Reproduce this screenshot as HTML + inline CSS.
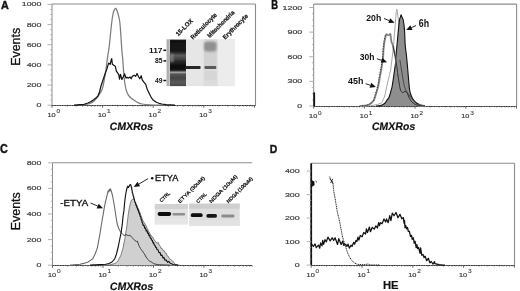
<!DOCTYPE html>
<html><head><meta charset="utf-8"><title>Figure</title>
<style>html,body{margin:0;padding:0;background:#fff;}body{width:520px;height:291px;overflow:hidden;font-family:"Liberation Sans",sans-serif;}svg{display:block;filter:grayscale(1);}</style>
</head><body>
<svg width="520" height="291" viewBox="0 0 520 291" font-family='"Liberation Sans", sans-serif'>
<defs><filter id="bl" x="-20%" y="-20%" width="140%" height="140%"><feGaussianBlur stdDeviation="0.6"/></filter><filter id="bl2" x="-20%" y="-20%" width="140%" height="140%"><feGaussianBlur stdDeviation="1.0"/></filter></defs>
<rect width="520" height="291" fill="#fff"/>
<line x1="52" y1="4" x2="255.5" y2="4" stroke="#8c8c8c" stroke-width="1.1"/>
<line x1="255.5" y1="4" x2="255.5" y2="105.2" stroke="#8c8c8c" stroke-width="1.1"/>
<line x1="52" y1="4" x2="52" y2="105.2" stroke="#8c8c8c" stroke-width="1"/>
<line x1="52" y1="105.5" x2="255.5" y2="105.5" stroke="#7a7a7a" stroke-width="1"/>
<line x1="52" y1="105.5" x2="255.5" y2="105.5" stroke="#333" stroke-width="1" stroke-dasharray="1.3 1.2"/>
<line x1="47.5" y1="105.2" x2="52" y2="105.2" stroke="#a8a8a8" stroke-width="0.9"/>
<text transform="translate(41.4 107.2) scale(0.25)" font-size="22.4" text-anchor="end" font-weight="normal" fill="#444" textLength="19.6" lengthAdjust="spacingAndGlyphs" stroke="#444" stroke-width="0.8">0</text>
<line x1="47.5" y1="85.04" x2="52" y2="85.04" stroke="#a8a8a8" stroke-width="0.9"/>
<text transform="translate(41.4 87.04) scale(0.25)" font-size="22.4" text-anchor="end" font-weight="normal" fill="#444" textLength="58.8" lengthAdjust="spacingAndGlyphs" stroke="#444" stroke-width="0.8">200</text>
<line x1="47.5" y1="64.88" x2="52" y2="64.88" stroke="#a8a8a8" stroke-width="0.9"/>
<text transform="translate(41.4 66.88) scale(0.25)" font-size="22.4" text-anchor="end" font-weight="normal" fill="#444" textLength="58.8" lengthAdjust="spacingAndGlyphs" stroke="#444" stroke-width="0.8">400</text>
<line x1="47.5" y1="44.72" x2="52" y2="44.72" stroke="#a8a8a8" stroke-width="0.9"/>
<text transform="translate(41.4 46.72) scale(0.25)" font-size="22.4" text-anchor="end" font-weight="normal" fill="#444" textLength="58.8" lengthAdjust="spacingAndGlyphs" stroke="#444" stroke-width="0.8">600</text>
<line x1="47.5" y1="24.56" x2="52" y2="24.56" stroke="#a8a8a8" stroke-width="0.9"/>
<text transform="translate(41.4 26.56) scale(0.25)" font-size="22.4" text-anchor="end" font-weight="normal" fill="#444" textLength="58.8" lengthAdjust="spacingAndGlyphs" stroke="#444" stroke-width="0.8">800</text>
<line x1="47.5" y1="4.4" x2="52" y2="4.4" stroke="#a8a8a8" stroke-width="0.9"/>
<text transform="translate(41.4 6.4) scale(0.25)" font-size="22.4" text-anchor="end" font-weight="normal" fill="#444" textLength="78.4" lengthAdjust="spacingAndGlyphs" stroke="#444" stroke-width="0.8">1000</text>
<line x1="50.2" y1="100.16" x2="52" y2="100.16" stroke="#a8a8a8" stroke-width="0.8"/>
<line x1="50.2" y1="95.12" x2="52" y2="95.12" stroke="#a8a8a8" stroke-width="0.8"/>
<line x1="50.2" y1="90.08" x2="52" y2="90.08" stroke="#a8a8a8" stroke-width="0.8"/>
<line x1="50.2" y1="80" x2="52" y2="80" stroke="#a8a8a8" stroke-width="0.8"/>
<line x1="50.2" y1="74.96" x2="52" y2="74.96" stroke="#a8a8a8" stroke-width="0.8"/>
<line x1="50.2" y1="69.92" x2="52" y2="69.92" stroke="#a8a8a8" stroke-width="0.8"/>
<line x1="50.2" y1="59.84" x2="52" y2="59.84" stroke="#a8a8a8" stroke-width="0.8"/>
<line x1="50.2" y1="54.8" x2="52" y2="54.8" stroke="#a8a8a8" stroke-width="0.8"/>
<line x1="50.2" y1="49.76" x2="52" y2="49.76" stroke="#a8a8a8" stroke-width="0.8"/>
<line x1="50.2" y1="39.68" x2="52" y2="39.68" stroke="#a8a8a8" stroke-width="0.8"/>
<line x1="50.2" y1="34.64" x2="52" y2="34.64" stroke="#a8a8a8" stroke-width="0.8"/>
<line x1="50.2" y1="29.6" x2="52" y2="29.6" stroke="#a8a8a8" stroke-width="0.8"/>
<line x1="50.2" y1="19.52" x2="52" y2="19.52" stroke="#a8a8a8" stroke-width="0.8"/>
<line x1="50.2" y1="14.48" x2="52" y2="14.48" stroke="#a8a8a8" stroke-width="0.8"/>
<line x1="50.2" y1="9.44" x2="52" y2="9.44" stroke="#a8a8a8" stroke-width="0.8"/>
<line x1="52" y1="105.2" x2="52" y2="107.8" stroke="#555" stroke-width="0.9"/>
<line x1="67.23" y1="105.2" x2="67.23" y2="106.6" stroke="#555" stroke-width="0.8"/>
<line x1="76.14" y1="105.2" x2="76.14" y2="106.6" stroke="#555" stroke-width="0.8"/>
<line x1="82.46" y1="105.2" x2="82.46" y2="106.6" stroke="#555" stroke-width="0.8"/>
<line x1="87.37" y1="105.2" x2="87.37" y2="106.6" stroke="#555" stroke-width="0.8"/>
<line x1="91.37" y1="105.2" x2="91.37" y2="106.6" stroke="#555" stroke-width="0.8"/>
<line x1="94.76" y1="105.2" x2="94.76" y2="106.6" stroke="#555" stroke-width="0.8"/>
<line x1="97.7" y1="105.2" x2="97.7" y2="106.6" stroke="#555" stroke-width="0.8"/>
<line x1="100.28" y1="105.2" x2="100.28" y2="106.6" stroke="#555" stroke-width="0.8"/>
<text transform="translate(47.4 117.2) scale(0.25)" font-size="22.4" text-anchor="start" font-weight="normal" fill="#444" textLength="32.8" lengthAdjust="spacingAndGlyphs" stroke="#444" stroke-width="0.8">10</text>
<text transform="translate(56.4 113.3) scale(0.25)" font-size="20" text-anchor="start" font-weight="normal" fill="#444" textLength="14.4" lengthAdjust="spacingAndGlyphs" stroke="#444" stroke-width="0.5">0</text>
<line x1="102.6" y1="105.2" x2="102.6" y2="107.8" stroke="#555" stroke-width="0.9"/>
<line x1="117.83" y1="105.2" x2="117.83" y2="106.6" stroke="#555" stroke-width="0.8"/>
<line x1="126.74" y1="105.2" x2="126.74" y2="106.6" stroke="#555" stroke-width="0.8"/>
<line x1="133.06" y1="105.2" x2="133.06" y2="106.6" stroke="#555" stroke-width="0.8"/>
<line x1="137.97" y1="105.2" x2="137.97" y2="106.6" stroke="#555" stroke-width="0.8"/>
<line x1="141.97" y1="105.2" x2="141.97" y2="106.6" stroke="#555" stroke-width="0.8"/>
<line x1="145.36" y1="105.2" x2="145.36" y2="106.6" stroke="#555" stroke-width="0.8"/>
<line x1="148.3" y1="105.2" x2="148.3" y2="106.6" stroke="#555" stroke-width="0.8"/>
<line x1="150.88" y1="105.2" x2="150.88" y2="106.6" stroke="#555" stroke-width="0.8"/>
<text transform="translate(98 117.2) scale(0.25)" font-size="22.4" text-anchor="start" font-weight="normal" fill="#444" textLength="32.8" lengthAdjust="spacingAndGlyphs" stroke="#444" stroke-width="0.8">10</text>
<text transform="translate(107 113.3) scale(0.25)" font-size="20" text-anchor="start" font-weight="normal" fill="#444" textLength="14.4" lengthAdjust="spacingAndGlyphs" stroke="#444" stroke-width="0.5">1</text>
<line x1="153.2" y1="105.2" x2="153.2" y2="107.8" stroke="#555" stroke-width="0.9"/>
<line x1="168.43" y1="105.2" x2="168.43" y2="106.6" stroke="#555" stroke-width="0.8"/>
<line x1="177.34" y1="105.2" x2="177.34" y2="106.6" stroke="#555" stroke-width="0.8"/>
<line x1="183.66" y1="105.2" x2="183.66" y2="106.6" stroke="#555" stroke-width="0.8"/>
<line x1="188.57" y1="105.2" x2="188.57" y2="106.6" stroke="#555" stroke-width="0.8"/>
<line x1="192.57" y1="105.2" x2="192.57" y2="106.6" stroke="#555" stroke-width="0.8"/>
<line x1="195.96" y1="105.2" x2="195.96" y2="106.6" stroke="#555" stroke-width="0.8"/>
<line x1="198.9" y1="105.2" x2="198.9" y2="106.6" stroke="#555" stroke-width="0.8"/>
<line x1="201.48" y1="105.2" x2="201.48" y2="106.6" stroke="#555" stroke-width="0.8"/>
<text transform="translate(148.6 117.2) scale(0.25)" font-size="22.4" text-anchor="start" font-weight="normal" fill="#444" textLength="32.8" lengthAdjust="spacingAndGlyphs" stroke="#444" stroke-width="0.8">10</text>
<text transform="translate(157.6 113.3) scale(0.25)" font-size="20" text-anchor="start" font-weight="normal" fill="#444" textLength="14.4" lengthAdjust="spacingAndGlyphs" stroke="#444" stroke-width="0.5">2</text>
<line x1="203.8" y1="105.2" x2="203.8" y2="107.8" stroke="#555" stroke-width="0.9"/>
<line x1="219.03" y1="105.2" x2="219.03" y2="106.6" stroke="#555" stroke-width="0.8"/>
<line x1="227.94" y1="105.2" x2="227.94" y2="106.6" stroke="#555" stroke-width="0.8"/>
<line x1="234.26" y1="105.2" x2="234.26" y2="106.6" stroke="#555" stroke-width="0.8"/>
<line x1="239.17" y1="105.2" x2="239.17" y2="106.6" stroke="#555" stroke-width="0.8"/>
<line x1="243.17" y1="105.2" x2="243.17" y2="106.6" stroke="#555" stroke-width="0.8"/>
<line x1="246.56" y1="105.2" x2="246.56" y2="106.6" stroke="#555" stroke-width="0.8"/>
<line x1="249.5" y1="105.2" x2="249.5" y2="106.6" stroke="#555" stroke-width="0.8"/>
<line x1="252.08" y1="105.2" x2="252.08" y2="106.6" stroke="#555" stroke-width="0.8"/>
<text transform="translate(199.2 117.2) scale(0.25)" font-size="22.4" text-anchor="start" font-weight="normal" fill="#444" textLength="32.8" lengthAdjust="spacingAndGlyphs" stroke="#444" stroke-width="0.8">10</text>
<text transform="translate(208.2 113.3) scale(0.25)" font-size="20" text-anchor="start" font-weight="normal" fill="#444" textLength="14.4" lengthAdjust="spacingAndGlyphs" stroke="#444" stroke-width="0.5">3</text>
<line x1="254.4" y1="105.2" x2="254.4" y2="107.8" stroke="#555" stroke-width="0.9"/>
<path d="M78 105.1 C79.33 105 84 104.77 86 104.5 C88 104.23 88.67 104.08 90 103.5 C91.33 102.92 92.67 102.17 94 101 C95.33 99.83 96.68 98.33 98 96.5 C99.32 94.67 100.98 92.08 101.9 90 C102.82 87.92 103.02 86.17 103.5 84 C103.98 81.83 104.4 79.33 104.8 77 C105.2 74.67 105.57 72.33 105.9 70 C106.23 67.67 106.52 65.17 106.8 63 C107.08 60.83 107.33 58.83 107.6 57 C107.87 55.17 108.08 54.17 108.4 52 C108.72 49.83 109.13 47.17 109.5 44 C109.87 40.83 110.22 36.67 110.6 33 C110.98 29.33 111.43 25 111.8 22 C112.17 19 112.43 16.92 112.8 15 C113.17 13.08 113.58 11.58 114 10.5 C114.42 9.42 114.93 8.78 115.3 8.5 C115.67 8.22 115.87 8.3 116.2 8.8 C116.53 9.3 116.9 10.3 117.3 11.5 C117.7 12.7 118.18 14.25 118.6 16 C119.02 17.75 119.45 19.17 119.8 22 C120.15 24.83 120.42 29.17 120.7 33 C120.98 36.83 121.28 41.83 121.5 45 C121.72 48.17 121.78 49.5 122 52 C122.22 54.5 122.55 57 122.8 60 C123.05 63 123.25 66.83 123.5 70 C123.75 73.17 124.03 76.5 124.3 79 C124.57 81.5 124.78 83.17 125.1 85 C125.42 86.83 125.8 88.58 126.2 90 C126.6 91.42 127.03 92.5 127.5 93.5 C127.97 94.5 128.42 95.25 129 96 C129.58 96.75 130.33 97.42 131 98 C131.67 98.58 132.17 98.92 133 99.5 C133.83 100.08 135.17 100.98 136 101.5 C136.83 102.02 137 102.18 138 102.6 C139 103.02 140 103.63 142 104 C144 104.37 146.17 104.62 150 104.8 C153.83 104.98 162.5 105.05 165 105.1" fill="none" stroke="#7c7c7c" stroke-width="1.25"/>
<path d="M74 105.1 L84 104.3 L88 103 L91 101.5 L94 99.5 L96.5 97.5 L98 95.8 L99.5 92 L101 86 L103 80 L105 74 L107.1 68.4 L108.6 63.2 L110.2 64.3 L111.2 60 L111.7 58.6 L112.4 64.3 L113.8 65.3 L115.3 66.3 L116.4 71.2 L118.8 74.6 L119.5 79.1 L120.5 74.3 L121.9 79.5 L123.3 76.7 L124.6 73.9 L126 78.1 L127 77.2 L128.1 78.1 L130.1 77 L131.2 78.8 L132.2 76.4 L134.3 75.3 L135.6 76.4 L137 73.6 L138.7 77 L139.8 78.8 L141.2 75.7 L142.2 79.8 L143.9 82.2 L145.7 84.4 L147.3 89.5 L149 93 L150.9 96.8 L153 100 L156.4 102.3 L159 103.3 L161.8 104 L166 104.7 L175 105.1" fill="none" stroke="#111" stroke-width="1.2" stroke-linejoin="round"/>
<defs><linearGradient id="l1" x1="0" y1="0" x2="0" y2="1"><stop offset="0.000" stop-color="#222"/><stop offset="0.036" stop-color="#111"/><stop offset="0.229" stop-color="#141414"/><stop offset="0.286" stop-color="#2e2e2e"/><stop offset="0.335" stop-color="#5c5c5c"/><stop offset="0.400" stop-color="#4a4a4a"/><stop offset="0.464" stop-color="#2a2a2a"/><stop offset="0.549" stop-color="#111"/><stop offset="0.635" stop-color="#0d0d0d"/><stop offset="0.669" stop-color="#333"/><stop offset="0.703" stop-color="#a8a8a8"/><stop offset="0.741" stop-color="#555"/><stop offset="0.827" stop-color="#444"/><stop offset="0.912" stop-color="#5a5a5a"/><stop offset="1.000" stop-color="#484848"/></linearGradient></defs>
<rect x="166.6" y="39.3" width="68.1" height="46.8" fill="#e6e6e6"/>
<g filter="url(#bl)">
<rect x="166.6" y="39.3" width="3" height="46.8" fill="#b0b0b0"/>
<rect x="203.5" y="39.3" width="14" height="46.8" fill="#dcdcdc"/>
<rect x="218" y="39.3" width="16.5" height="46.8" fill="#ececec"/>
<rect x="204" y="50" width="12.5" height="16" fill="#d2d2d2"/>
<rect x="170" y="39.6" width="16" height="46.5" fill="url(#l1)"/>
<rect x="170" y="54" width="3.5" height="8" fill="#7a7a7a" filter="url(#bl2)"/>
<rect x="185" y="66.1" width="15.6" height="2.8" rx="1" fill="#262626"/>
<rect x="204.4" y="66.1" width="11.9" height="2.8" rx="1" fill="#5a5a5a"/>
<rect x="204" y="41.5" width="12.6" height="10" rx="3" fill="#909090" filter="url(#bl2)"/>
<rect x="204.4" y="71" width="11.9" height="9" rx="2" fill="#d6d6d6"/>
</g>
<text x="162.5" y="52.5" font-size="6.3" font-weight="bold" text-anchor="end" fill="#111" textLength="13.5" lengthAdjust="spacingAndGlyphs">117</text>
<line x1="163.4" y1="50.3" x2="166.2" y2="50.3" stroke="#111" stroke-width="1.5"/>
<text x="162.5" y="63.1" font-size="6.3" font-weight="bold" text-anchor="end" fill="#111" textLength="7.5" lengthAdjust="spacingAndGlyphs">85</text>
<line x1="163.4" y1="60.9" x2="166.2" y2="60.9" stroke="#111" stroke-width="1.5"/>
<text x="162.5" y="82.7" font-size="6.3" font-weight="bold" text-anchor="end" fill="#111" textLength="7.5" lengthAdjust="spacingAndGlyphs">49</text>
<line x1="163.4" y1="80.5" x2="166.2" y2="80.5" stroke="#111" stroke-width="1.5"/>
<text transform="translate(178.2 36.5) rotate(-45) scale(0.25)" font-size="25" font-weight="bold" fill="#111" stroke="#111" stroke-width="0.8" textLength="86" lengthAdjust="spacingAndGlyphs">15-LOX</text>
<text transform="translate(193 39.8) rotate(-45) scale(0.25)" font-size="25" font-weight="bold" fill="#111" stroke="#111" stroke-width="0.8" textLength="138" lengthAdjust="spacingAndGlyphs">Reticulocyte</text>
<text transform="translate(209.8 38.2) rotate(-45) scale(0.25)" font-size="25" font-weight="bold" fill="#111" stroke="#111" stroke-width="0.8" textLength="142" lengthAdjust="spacingAndGlyphs">Mitochondria</text>
<text transform="translate(225.2 39.8) rotate(-45) scale(0.25)" font-size="25" font-weight="bold" fill="#111" stroke="#111" stroke-width="0.8" textLength="132" lengthAdjust="spacingAndGlyphs">Erythrocyte</text>
<line x1="313.7" y1="4.1" x2="516.6" y2="4.1" stroke="#8c8c8c" stroke-width="1.1"/>
<line x1="516.6" y1="4.1" x2="516.6" y2="106" stroke="#8c8c8c" stroke-width="1.1"/>
<line x1="313.7" y1="4.1" x2="313.7" y2="106" stroke="#8c8c8c" stroke-width="1"/>
<line x1="313.7" y1="106.5" x2="516.6" y2="106.5" stroke="#7a7a7a" stroke-width="1"/>
<line x1="313.7" y1="106.5" x2="516.6" y2="106.5" stroke="#333" stroke-width="1" stroke-dasharray="1.3 1.2"/>
<line x1="309.2" y1="106" x2="313.7" y2="106" stroke="#a8a8a8" stroke-width="0.9"/>
<text transform="translate(302.2 108) scale(0.25)" font-size="22.4" text-anchor="end" font-weight="normal" fill="#444" textLength="19.6" lengthAdjust="spacingAndGlyphs" stroke="#444" stroke-width="0.8">0</text>
<line x1="309.2" y1="81.38" x2="313.7" y2="81.38" stroke="#a8a8a8" stroke-width="0.9"/>
<text transform="translate(302.2 83.38) scale(0.25)" font-size="22.4" text-anchor="end" font-weight="normal" fill="#444" textLength="58.8" lengthAdjust="spacingAndGlyphs" stroke="#444" stroke-width="0.8">300</text>
<line x1="309.2" y1="56.75" x2="313.7" y2="56.75" stroke="#a8a8a8" stroke-width="0.9"/>
<text transform="translate(302.2 58.75) scale(0.25)" font-size="22.4" text-anchor="end" font-weight="normal" fill="#444" textLength="58.8" lengthAdjust="spacingAndGlyphs" stroke="#444" stroke-width="0.8">600</text>
<line x1="309.2" y1="32.12" x2="313.7" y2="32.12" stroke="#a8a8a8" stroke-width="0.9"/>
<text transform="translate(302.2 34.12) scale(0.25)" font-size="22.4" text-anchor="end" font-weight="normal" fill="#444" textLength="58.8" lengthAdjust="spacingAndGlyphs" stroke="#444" stroke-width="0.8">900</text>
<line x1="309.2" y1="7.5" x2="313.7" y2="7.5" stroke="#a8a8a8" stroke-width="0.9"/>
<text transform="translate(302.2 9.5) scale(0.25)" font-size="22.4" text-anchor="end" font-weight="normal" fill="#444" textLength="78.4" lengthAdjust="spacingAndGlyphs" stroke="#444" stroke-width="0.8">1200</text>
<line x1="311.9" y1="99.84" x2="313.7" y2="99.84" stroke="#a8a8a8" stroke-width="0.8"/>
<line x1="311.9" y1="93.69" x2="313.7" y2="93.69" stroke="#a8a8a8" stroke-width="0.8"/>
<line x1="311.9" y1="87.53" x2="313.7" y2="87.53" stroke="#a8a8a8" stroke-width="0.8"/>
<line x1="311.9" y1="75.22" x2="313.7" y2="75.22" stroke="#a8a8a8" stroke-width="0.8"/>
<line x1="311.9" y1="69.06" x2="313.7" y2="69.06" stroke="#a8a8a8" stroke-width="0.8"/>
<line x1="311.9" y1="62.91" x2="313.7" y2="62.91" stroke="#a8a8a8" stroke-width="0.8"/>
<line x1="311.9" y1="50.59" x2="313.7" y2="50.59" stroke="#a8a8a8" stroke-width="0.8"/>
<line x1="311.9" y1="44.44" x2="313.7" y2="44.44" stroke="#a8a8a8" stroke-width="0.8"/>
<line x1="311.9" y1="38.28" x2="313.7" y2="38.28" stroke="#a8a8a8" stroke-width="0.8"/>
<line x1="311.9" y1="25.97" x2="313.7" y2="25.97" stroke="#a8a8a8" stroke-width="0.8"/>
<line x1="311.9" y1="19.81" x2="313.7" y2="19.81" stroke="#a8a8a8" stroke-width="0.8"/>
<line x1="311.9" y1="13.66" x2="313.7" y2="13.66" stroke="#a8a8a8" stroke-width="0.8"/>
<line x1="313.7" y1="106" x2="313.7" y2="108.6" stroke="#555" stroke-width="0.9"/>
<line x1="328.96" y1="106" x2="328.96" y2="107.4" stroke="#555" stroke-width="0.8"/>
<line x1="337.89" y1="106" x2="337.89" y2="107.4" stroke="#555" stroke-width="0.8"/>
<line x1="344.22" y1="106" x2="344.22" y2="107.4" stroke="#555" stroke-width="0.8"/>
<line x1="349.14" y1="106" x2="349.14" y2="107.4" stroke="#555" stroke-width="0.8"/>
<line x1="353.15" y1="106" x2="353.15" y2="107.4" stroke="#555" stroke-width="0.8"/>
<line x1="356.55" y1="106" x2="356.55" y2="107.4" stroke="#555" stroke-width="0.8"/>
<line x1="359.49" y1="106" x2="359.49" y2="107.4" stroke="#555" stroke-width="0.8"/>
<line x1="362.08" y1="106" x2="362.08" y2="107.4" stroke="#555" stroke-width="0.8"/>
<text transform="translate(309.1 118.4) scale(0.25)" font-size="22.4" text-anchor="start" font-weight="normal" fill="#444" textLength="32.8" lengthAdjust="spacingAndGlyphs" stroke="#444" stroke-width="0.8">10</text>
<text transform="translate(318.1 114.5) scale(0.25)" font-size="20" text-anchor="start" font-weight="normal" fill="#444" textLength="14.4" lengthAdjust="spacingAndGlyphs" stroke="#444" stroke-width="0.5">0</text>
<line x1="364.4" y1="106" x2="364.4" y2="108.6" stroke="#555" stroke-width="0.9"/>
<line x1="379.66" y1="106" x2="379.66" y2="107.4" stroke="#555" stroke-width="0.8"/>
<line x1="388.59" y1="106" x2="388.59" y2="107.4" stroke="#555" stroke-width="0.8"/>
<line x1="394.92" y1="106" x2="394.92" y2="107.4" stroke="#555" stroke-width="0.8"/>
<line x1="399.84" y1="106" x2="399.84" y2="107.4" stroke="#555" stroke-width="0.8"/>
<line x1="403.85" y1="106" x2="403.85" y2="107.4" stroke="#555" stroke-width="0.8"/>
<line x1="407.25" y1="106" x2="407.25" y2="107.4" stroke="#555" stroke-width="0.8"/>
<line x1="410.19" y1="106" x2="410.19" y2="107.4" stroke="#555" stroke-width="0.8"/>
<line x1="412.78" y1="106" x2="412.78" y2="107.4" stroke="#555" stroke-width="0.8"/>
<text transform="translate(359.8 118.4) scale(0.25)" font-size="22.4" text-anchor="start" font-weight="normal" fill="#444" textLength="32.8" lengthAdjust="spacingAndGlyphs" stroke="#444" stroke-width="0.8">10</text>
<text transform="translate(368.8 114.5) scale(0.25)" font-size="20" text-anchor="start" font-weight="normal" fill="#444" textLength="14.4" lengthAdjust="spacingAndGlyphs" stroke="#444" stroke-width="0.5">1</text>
<line x1="415.1" y1="106" x2="415.1" y2="108.6" stroke="#555" stroke-width="0.9"/>
<line x1="430.36" y1="106" x2="430.36" y2="107.4" stroke="#555" stroke-width="0.8"/>
<line x1="439.29" y1="106" x2="439.29" y2="107.4" stroke="#555" stroke-width="0.8"/>
<line x1="445.62" y1="106" x2="445.62" y2="107.4" stroke="#555" stroke-width="0.8"/>
<line x1="450.54" y1="106" x2="450.54" y2="107.4" stroke="#555" stroke-width="0.8"/>
<line x1="454.55" y1="106" x2="454.55" y2="107.4" stroke="#555" stroke-width="0.8"/>
<line x1="457.95" y1="106" x2="457.95" y2="107.4" stroke="#555" stroke-width="0.8"/>
<line x1="460.89" y1="106" x2="460.89" y2="107.4" stroke="#555" stroke-width="0.8"/>
<line x1="463.48" y1="106" x2="463.48" y2="107.4" stroke="#555" stroke-width="0.8"/>
<text transform="translate(410.5 118.4) scale(0.25)" font-size="22.4" text-anchor="start" font-weight="normal" fill="#444" textLength="32.8" lengthAdjust="spacingAndGlyphs" stroke="#444" stroke-width="0.8">10</text>
<text transform="translate(419.5 114.5) scale(0.25)" font-size="20" text-anchor="start" font-weight="normal" fill="#444" textLength="14.4" lengthAdjust="spacingAndGlyphs" stroke="#444" stroke-width="0.5">2</text>
<line x1="465.8" y1="106" x2="465.8" y2="108.6" stroke="#555" stroke-width="0.9"/>
<line x1="481.06" y1="106" x2="481.06" y2="107.4" stroke="#555" stroke-width="0.8"/>
<line x1="489.99" y1="106" x2="489.99" y2="107.4" stroke="#555" stroke-width="0.8"/>
<line x1="496.32" y1="106" x2="496.32" y2="107.4" stroke="#555" stroke-width="0.8"/>
<line x1="501.24" y1="106" x2="501.24" y2="107.4" stroke="#555" stroke-width="0.8"/>
<line x1="505.25" y1="106" x2="505.25" y2="107.4" stroke="#555" stroke-width="0.8"/>
<line x1="508.65" y1="106" x2="508.65" y2="107.4" stroke="#555" stroke-width="0.8"/>
<line x1="511.59" y1="106" x2="511.59" y2="107.4" stroke="#555" stroke-width="0.8"/>
<line x1="514.18" y1="106" x2="514.18" y2="107.4" stroke="#555" stroke-width="0.8"/>
<text transform="translate(461.2 118.4) scale(0.25)" font-size="22.4" text-anchor="start" font-weight="normal" fill="#444" textLength="32.8" lengthAdjust="spacingAndGlyphs" stroke="#444" stroke-width="0.8">10</text>
<text transform="translate(470.2 114.5) scale(0.25)" font-size="20" text-anchor="start" font-weight="normal" fill="#444" textLength="14.4" lengthAdjust="spacingAndGlyphs" stroke="#444" stroke-width="0.5">3</text>
<line x1="516.5" y1="106" x2="516.5" y2="108.6" stroke="#555" stroke-width="0.9"/>
<rect x="313.3" y="92.4" width="1.8" height="13.6" fill="#111"/>
<path d="M365 106 C366.17 105.92 370 105.75 372 105.5 C374 105.25 375.67 104.83 377 104.5 C378.33 104.17 379.23 103.75 380 103.5 C380.77 103.25 381.1 103.58 381.6 103 C382.1 102.42 382.48 101.17 383 100 C383.52 98.83 384.2 97.67 384.7 96 C385.2 94.33 385.53 92.17 386 90 C386.47 87.83 387 85.17 387.5 83 C388 80.83 388.58 78.83 389 77 C389.42 75.17 389.73 73.17 390 72 C390.27 70.83 390.35 71.5 390.6 70 C390.85 68.5 391.18 65.5 391.5 63 C391.82 60.5 392.17 57.9 392.5 55 C392.83 52.1 393.25 48.1 393.5 45.6 C393.75 43.1 393.78 42.6 394 40 C394.22 37.4 394.53 33.33 394.8 30 C395.07 26.67 395.38 22.67 395.6 20 C395.82 17.33 395.95 15.67 396.1 14 C396.25 12.33 396.38 10.82 396.5 10 C396.62 9.18 396.68 9.1 396.8 9.1 C396.92 9.1 397.07 9.18 397.2 10 C397.33 10.82 397.4 12.33 397.6 14 C397.8 15.67 398.17 17.33 398.4 20 C398.63 22.67 398.73 26.67 399 30 C399.27 33.33 399.67 35.83 400 40 C400.33 44.17 400.67 50 401 55 C401.33 60 401.67 65.83 402 70 C402.33 74.17 402.58 77 403 80 C403.42 83 404 85.67 404.5 88 C405 90.33 405.42 92.17 406 94 C406.58 95.83 407.17 97.5 408 99 C408.83 100.5 409.67 101.95 411 103 C412.33 104.05 413.67 104.8 416 105.3 C418.33 105.8 423.5 105.88 425 106" fill="#fff" stroke="#9a9a9a" stroke-width="0.9"/>
<path d="M376 106 C376.67 105.93 378.83 105.85 380 105.6 C381.17 105.35 382.17 104.92 383 104.5 C383.83 104.08 384.28 103.92 385 103.1 C385.72 102.28 386.7 100.42 387.3 99.6 C387.9 98.78 388.15 99.05 388.6 98.2 C389.05 97.35 389.63 95.63 390 94.5 C390.37 93.37 390.47 92.65 390.8 91.4 C391.13 90.15 391.6 88.95 392 87 C392.4 85.05 392.87 81.87 393.2 79.7 C393.53 77.53 393.75 75.78 394 74 C394.25 72.22 394.45 70.77 394.7 69 C394.95 67.23 395.25 65.98 395.5 63.4 C395.75 60.82 395.95 56.57 396.2 53.5 C396.45 50.43 396.63 48.92 397 45 C397.37 41.08 397.98 34.17 398.4 30 C398.82 25.83 399.15 22.2 399.5 20 C399.85 17.8 400.23 17.67 400.5 16.8 C400.77 15.93 400.88 14.8 401.1 14.8 C401.32 14.8 401.45 15.93 401.8 16.8 C402.15 17.67 402.75 17.8 403.2 20 C403.65 22.2 404.17 25.83 404.5 30 C404.83 34.17 404.88 40.83 405.2 45 C405.52 49.17 406.07 51.93 406.4 55 C406.73 58.07 406.97 60.9 407.2 63.4 C407.43 65.9 407.6 67.67 407.8 70 C408 72.33 408.12 74.23 408.4 77.4 C408.68 80.57 409.15 86.32 409.5 89 C409.85 91.68 410.1 92.13 410.5 93.5 C410.9 94.87 411.32 96.03 411.9 97.2 C412.48 98.37 413.23 99.53 414 100.5 C414.77 101.47 415.58 102.32 416.5 103 C417.42 103.68 418.52 104.18 419.5 104.6 C420.48 105.02 421.48 105.27 422.4 105.5 C423.32 105.73 424.57 105.92 425 106" fill="#8e8e8e" stroke="#111" stroke-width="1.1"/>
<path d="M360 106 C361 105.92 364.33 105.83 366 105.5 C367.67 105.17 368.92 104.58 370 104 C371.08 103.42 371.83 102.67 372.5 102 C373.17 101.33 373.42 101.33 374 100 C374.58 98.67 375.42 95.83 376 94 C376.58 92.17 377.08 90.5 377.5 89 C377.92 87.5 378.17 86.67 378.5 85 C378.83 83.33 379.12 81.17 379.5 79 C379.88 76.83 380.43 74 380.8 72 C381.17 70 381.43 68.67 381.7 67 C381.97 65.33 382.15 63.83 382.4 62 C382.65 60.17 383.02 58 383.2 56 C383.38 54 383.33 52 383.5 50 C383.67 48 384 45.58 384.2 44 C384.4 42.42 384.48 41.67 384.7 40.5 C384.92 39.33 385.25 38.03 385.5 37 C385.75 35.97 385.9 34.67 386.2 34.3 C386.5 33.93 386.95 34.63 387.3 34.8 C387.65 34.97 387.95 35.3 388.3 35.3 C388.65 35.3 389.05 34.97 389.4 34.8 C389.75 34.63 390.07 33.18 390.4 34.3 C390.73 35.42 390.97 39.62 391.4 41.5 C391.83 43.38 392.57 44.05 393 45.6 C393.43 47.15 393.63 49.07 394 50.8 C394.37 52.53 394.78 53.8 395.2 56 C395.62 58.2 396.05 60.83 396.5 64 C396.95 67.17 397.48 72 397.9 75 C398.32 78 398.62 79.67 399 82 C399.38 84.33 399.78 87.37 400.2 89 C400.62 90.63 401.12 91.2 401.5 91.8 C401.88 92.4 402.08 92.58 402.5 92.6 C402.92 92.62 403.42 92.1 404 91.9 C404.58 91.7 405.45 91.13 406 91.4 C406.55 91.67 406.9 92.73 407.3 93.5 C407.7 94.27 407.95 95.03 408.4 96 C408.85 96.97 409.42 98.3 410 99.3 C410.58 100.3 411.15 101.22 411.9 102 C412.65 102.78 413.53 103.47 414.5 104 C415.47 104.53 415.95 104.88 417.7 105.2 C419.45 105.52 423.78 105.78 425 105.9" fill="none" stroke="#9a9a9a" stroke-width="1.9"/>
<path d="M360 106 C361 105.92 364.33 105.83 366 105.5 C367.67 105.17 368.92 104.58 370 104 C371.08 103.42 371.83 102.67 372.5 102 C373.17 101.33 373.42 101.33 374 100 C374.58 98.67 375.42 95.83 376 94 C376.58 92.17 377.08 90.5 377.5 89 C377.92 87.5 378.17 86.67 378.5 85 C378.83 83.33 379.12 81.17 379.5 79 C379.88 76.83 380.43 74 380.8 72 C381.17 70 381.43 68.67 381.7 67 C381.97 65.33 382.15 63.83 382.4 62 C382.65 60.17 383.02 58 383.2 56 C383.38 54 383.33 52 383.5 50 C383.67 48 384 45.58 384.2 44 C384.4 42.42 384.48 41.67 384.7 40.5 C384.92 39.33 385.25 38.03 385.5 37 C385.75 35.97 385.9 34.67 386.2 34.3 C386.5 33.93 386.95 34.63 387.3 34.8 C387.65 34.97 387.95 35.3 388.3 35.3 C388.65 35.3 389.05 34.97 389.4 34.8 C389.75 34.63 390.07 33.18 390.4 34.3 C390.73 35.42 390.97 39.62 391.4 41.5 C391.83 43.38 392.57 44.05 393 45.6 C393.43 47.15 393.63 49.07 394 50.8 C394.37 52.53 394.78 53.8 395.2 56 C395.62 58.2 396.05 60.83 396.5 64 C396.95 67.17 397.48 72 397.9 75 C398.32 78 398.62 79.67 399 82 C399.38 84.33 399.78 87.37 400.2 89 C400.62 90.63 401.12 91.2 401.5 91.8 C401.88 92.4 402.08 92.58 402.5 92.6 C402.92 92.62 403.42 92.1 404 91.9 C404.58 91.7 405.45 91.13 406 91.4 C406.55 91.67 406.9 92.73 407.3 93.5 C407.7 94.27 407.95 95.03 408.4 96 C408.85 96.97 409.42 98.3 410 99.3 C410.58 100.3 411.15 101.22 411.9 102 C412.65 102.78 413.53 103.47 414.5 104 C415.47 104.53 415.95 104.88 417.7 105.2 C419.45 105.52 423.78 105.78 425 105.9" fill="none" stroke="#555" stroke-width="0.5"/>
<path d="M393 45.6 C393.17 46.47 393.63 49.07 394 50.8 C394.37 52.53 394.78 53.8 395.2 56 C395.62 58.2 396.05 60.83 396.5 64 C396.95 67.17 397.48 72 397.9 75 C398.32 78 398.62 79.67 399 82 C399.38 84.33 399.78 87.37 400.2 89 C400.62 90.63 401.12 91.2 401.5 91.8 C401.88 92.4 402.08 92.58 402.5 92.6 C402.92 92.62 403.42 92.1 404 91.9 C404.58 91.7 405.45 91.13 406 91.4 C406.55 91.67 406.9 92.73 407.3 93.5 C407.7 94.27 407.95 95.03 408.4 96 C408.85 96.97 409.42 98.3 410 99.3 C410.58 100.3 411.15 101.22 411.9 102 C412.65 102.78 413.53 103.47 414.5 104 C415.47 104.53 415.95 104.88 417.7 105.2 C419.45 105.52 423.78 105.78 425 105.9" fill="none" stroke="#2a2a2a" stroke-width="0.9"/>
<path d="M399.9 60 C400.17 61.67 400.98 66.83 401.5 70 C402.02 73.17 402.58 76.55 403 79 C403.42 81.45 403.63 83.12 404 84.7 C404.37 86.28 404.78 87.4 405.2 88.5 C405.62 89.6 405.87 90.22 406.5 91.3 C407.13 92.38 408.18 93.9 409 95 C409.82 96.1 410.57 96.9 411.4 97.9 C412.23 98.9 413.17 100.03 414 101 C414.83 101.97 415.4 102.95 416.4 103.7 C417.4 104.45 419.4 105.2 420 105.5" fill="none" stroke="#333" stroke-width="0.8"/>
<path d="M359.4 106 C360.4 105.92 363.73 105.83 365.4 105.5 C367.07 105.17 368.32 104.58 369.4 104 C370.48 103.42 371.23 102.67 371.9 102 C372.57 101.33 372.82 101.33 373.4 100 C373.98 98.67 374.82 95.83 375.4 94 C375.98 92.17 376.48 90.5 376.9 89 C377.32 87.5 377.57 86.67 377.9 85 C378.23 83.33 378.52 81.17 378.9 79 C379.28 76.83 379.83 74 380.2 72 C380.57 70 380.83 68.67 381.1 67 C381.37 65.33 381.55 63.83 381.8 62 C382.05 60.17 382.42 58 382.6 56 C382.78 54 382.73 52 382.9 50 C383.07 48 383.4 45.58 383.6 44 C383.8 42.42 383.88 41.67 384.1 40.5 C384.32 39.33 384.65 38.03 384.9 37 C385.15 35.97 385.48 34.75 385.6 34.3" fill="none" stroke="#222" stroke-width="0.9" stroke-dasharray="1 1.6"/>
<text transform="translate(366.2 20.5) scale(0.25)" font-size="37.2" text-anchor="start" font-weight="bold" fill="#111" textLength="60" lengthAdjust="spacingAndGlyphs">20h</text>
<line x1="384" y1="18.5" x2="389.23" y2="20.62" stroke="#111" stroke-width="0.9"/>
<polygon points="394.6,22.8 388.25,23.03 390.2,18.21" fill="#111"/>
<text transform="translate(418.8 26.8) scale(0.25)" font-size="40.8" text-anchor="start" font-weight="bold" fill="#111" textLength="41.2" lengthAdjust="spacingAndGlyphs">6h</text>
<line x1="416" y1="25.5" x2="411.45" y2="27.64" stroke="#111" stroke-width="0.9"/>
<polygon points="406.2,30.1 410.35,25.28 412.56,29.99" fill="#111"/>
<text transform="translate(359.8 60.3) scale(0.25)" font-size="38.4" text-anchor="start" font-weight="bold" fill="#111" textLength="58.8" lengthAdjust="spacingAndGlyphs">30h</text>
<line x1="376.8" y1="58.7" x2="381.61" y2="60.33" stroke="#111" stroke-width="0.9"/>
<polygon points="387.1,62.2 380.77,62.8 382.44,57.87" fill="#111"/>
<text transform="translate(348.1 83.7) scale(0.25)" font-size="38.4" text-anchor="start" font-weight="bold" fill="#111" textLength="61.6" lengthAdjust="spacingAndGlyphs">45h</text>
<line x1="365.6" y1="83.7" x2="370.39" y2="85.28" stroke="#111" stroke-width="0.9"/>
<polygon points="375.9,87.1 369.58,87.75 371.21,82.81" fill="#111"/>
<line x1="52.5" y1="162.8" x2="252.2" y2="162.8" stroke="#8c8c8c" stroke-width="1.1"/>
<line x1="52.5" y1="162.8" x2="52.5" y2="265.2" stroke="#8c8c8c" stroke-width="1"/>
<line x1="52.5" y1="265.5" x2="252.2" y2="265.5" stroke="#7a7a7a" stroke-width="1"/>
<line x1="52.5" y1="265.5" x2="252.2" y2="265.5" stroke="#333" stroke-width="1" stroke-dasharray="1.3 1.2"/>
<line x1="48" y1="265.2" x2="52.5" y2="265.2" stroke="#a8a8a8" stroke-width="0.9"/>
<text transform="translate(41.4 267.2) scale(0.25)" font-size="22.4" text-anchor="end" font-weight="normal" fill="#444" textLength="19.6" lengthAdjust="spacingAndGlyphs" stroke="#444" stroke-width="0.8">0</text>
<line x1="48" y1="239.6" x2="52.5" y2="239.6" stroke="#a8a8a8" stroke-width="0.9"/>
<text transform="translate(41.4 241.6) scale(0.25)" font-size="22.4" text-anchor="end" font-weight="normal" fill="#444" textLength="58.8" lengthAdjust="spacingAndGlyphs" stroke="#444" stroke-width="0.8">200</text>
<line x1="48" y1="214" x2="52.5" y2="214" stroke="#a8a8a8" stroke-width="0.9"/>
<text transform="translate(41.4 216) scale(0.25)" font-size="22.4" text-anchor="end" font-weight="normal" fill="#444" textLength="58.8" lengthAdjust="spacingAndGlyphs" stroke="#444" stroke-width="0.8">400</text>
<line x1="48" y1="188.4" x2="52.5" y2="188.4" stroke="#a8a8a8" stroke-width="0.9"/>
<text transform="translate(41.4 190.4) scale(0.25)" font-size="22.4" text-anchor="end" font-weight="normal" fill="#444" textLength="58.8" lengthAdjust="spacingAndGlyphs" stroke="#444" stroke-width="0.8">600</text>
<line x1="48" y1="162.8" x2="52.5" y2="162.8" stroke="#a8a8a8" stroke-width="0.9"/>
<text transform="translate(41.4 164.8) scale(0.25)" font-size="22.4" text-anchor="end" font-weight="normal" fill="#444" textLength="58.8" lengthAdjust="spacingAndGlyphs" stroke="#444" stroke-width="0.8">800</text>
<line x1="50.7" y1="258.8" x2="52.5" y2="258.8" stroke="#a8a8a8" stroke-width="0.8"/>
<line x1="50.7" y1="252.4" x2="52.5" y2="252.4" stroke="#a8a8a8" stroke-width="0.8"/>
<line x1="50.7" y1="246" x2="52.5" y2="246" stroke="#a8a8a8" stroke-width="0.8"/>
<line x1="50.7" y1="233.2" x2="52.5" y2="233.2" stroke="#a8a8a8" stroke-width="0.8"/>
<line x1="50.7" y1="226.8" x2="52.5" y2="226.8" stroke="#a8a8a8" stroke-width="0.8"/>
<line x1="50.7" y1="220.4" x2="52.5" y2="220.4" stroke="#a8a8a8" stroke-width="0.8"/>
<line x1="50.7" y1="207.6" x2="52.5" y2="207.6" stroke="#a8a8a8" stroke-width="0.8"/>
<line x1="50.7" y1="201.2" x2="52.5" y2="201.2" stroke="#a8a8a8" stroke-width="0.8"/>
<line x1="50.7" y1="194.8" x2="52.5" y2="194.8" stroke="#a8a8a8" stroke-width="0.8"/>
<line x1="50.7" y1="182" x2="52.5" y2="182" stroke="#a8a8a8" stroke-width="0.8"/>
<line x1="50.7" y1="175.6" x2="52.5" y2="175.6" stroke="#a8a8a8" stroke-width="0.8"/>
<line x1="50.7" y1="169.2" x2="52.5" y2="169.2" stroke="#a8a8a8" stroke-width="0.8"/>
<line x1="52.5" y1="265.2" x2="52.5" y2="267.8" stroke="#555" stroke-width="0.9"/>
<line x1="67.7" y1="265.2" x2="67.7" y2="266.6" stroke="#555" stroke-width="0.8"/>
<line x1="76.59" y1="265.2" x2="76.59" y2="266.6" stroke="#555" stroke-width="0.8"/>
<line x1="82.9" y1="265.2" x2="82.9" y2="266.6" stroke="#555" stroke-width="0.8"/>
<line x1="87.8" y1="265.2" x2="87.8" y2="266.6" stroke="#555" stroke-width="0.8"/>
<line x1="91.8" y1="265.2" x2="91.8" y2="266.6" stroke="#555" stroke-width="0.8"/>
<line x1="95.18" y1="265.2" x2="95.18" y2="266.6" stroke="#555" stroke-width="0.8"/>
<line x1="98.11" y1="265.2" x2="98.11" y2="266.6" stroke="#555" stroke-width="0.8"/>
<line x1="100.69" y1="265.2" x2="100.69" y2="266.6" stroke="#555" stroke-width="0.8"/>
<text transform="translate(47.9 277) scale(0.25)" font-size="22.4" text-anchor="start" font-weight="normal" fill="#444" textLength="32.8" lengthAdjust="spacingAndGlyphs" stroke="#444" stroke-width="0.8">10</text>
<text transform="translate(56.9 273.1) scale(0.25)" font-size="20" text-anchor="start" font-weight="normal" fill="#444" textLength="14.4" lengthAdjust="spacingAndGlyphs" stroke="#444" stroke-width="0.5">0</text>
<line x1="103" y1="265.2" x2="103" y2="267.8" stroke="#555" stroke-width="0.9"/>
<line x1="118.2" y1="265.2" x2="118.2" y2="266.6" stroke="#555" stroke-width="0.8"/>
<line x1="127.09" y1="265.2" x2="127.09" y2="266.6" stroke="#555" stroke-width="0.8"/>
<line x1="133.4" y1="265.2" x2="133.4" y2="266.6" stroke="#555" stroke-width="0.8"/>
<line x1="138.3" y1="265.2" x2="138.3" y2="266.6" stroke="#555" stroke-width="0.8"/>
<line x1="142.3" y1="265.2" x2="142.3" y2="266.6" stroke="#555" stroke-width="0.8"/>
<line x1="145.68" y1="265.2" x2="145.68" y2="266.6" stroke="#555" stroke-width="0.8"/>
<line x1="148.61" y1="265.2" x2="148.61" y2="266.6" stroke="#555" stroke-width="0.8"/>
<line x1="151.19" y1="265.2" x2="151.19" y2="266.6" stroke="#555" stroke-width="0.8"/>
<text transform="translate(98.4 277) scale(0.25)" font-size="22.4" text-anchor="start" font-weight="normal" fill="#444" textLength="32.8" lengthAdjust="spacingAndGlyphs" stroke="#444" stroke-width="0.8">10</text>
<text transform="translate(107.4 273.1) scale(0.25)" font-size="20" text-anchor="start" font-weight="normal" fill="#444" textLength="14.4" lengthAdjust="spacingAndGlyphs" stroke="#444" stroke-width="0.5">1</text>
<line x1="153.5" y1="265.2" x2="153.5" y2="267.8" stroke="#555" stroke-width="0.9"/>
<line x1="168.7" y1="265.2" x2="168.7" y2="266.6" stroke="#555" stroke-width="0.8"/>
<line x1="177.59" y1="265.2" x2="177.59" y2="266.6" stroke="#555" stroke-width="0.8"/>
<line x1="183.9" y1="265.2" x2="183.9" y2="266.6" stroke="#555" stroke-width="0.8"/>
<line x1="188.8" y1="265.2" x2="188.8" y2="266.6" stroke="#555" stroke-width="0.8"/>
<line x1="192.8" y1="265.2" x2="192.8" y2="266.6" stroke="#555" stroke-width="0.8"/>
<line x1="196.18" y1="265.2" x2="196.18" y2="266.6" stroke="#555" stroke-width="0.8"/>
<line x1="199.11" y1="265.2" x2="199.11" y2="266.6" stroke="#555" stroke-width="0.8"/>
<line x1="201.69" y1="265.2" x2="201.69" y2="266.6" stroke="#555" stroke-width="0.8"/>
<text transform="translate(148.9 277) scale(0.25)" font-size="22.4" text-anchor="start" font-weight="normal" fill="#444" textLength="32.8" lengthAdjust="spacingAndGlyphs" stroke="#444" stroke-width="0.8">10</text>
<text transform="translate(157.9 273.1) scale(0.25)" font-size="20" text-anchor="start" font-weight="normal" fill="#444" textLength="14.4" lengthAdjust="spacingAndGlyphs" stroke="#444" stroke-width="0.5">2</text>
<line x1="204" y1="265.2" x2="204" y2="267.8" stroke="#555" stroke-width="0.9"/>
<line x1="219.2" y1="265.2" x2="219.2" y2="266.6" stroke="#555" stroke-width="0.8"/>
<line x1="228.09" y1="265.2" x2="228.09" y2="266.6" stroke="#555" stroke-width="0.8"/>
<line x1="234.4" y1="265.2" x2="234.4" y2="266.6" stroke="#555" stroke-width="0.8"/>
<line x1="239.3" y1="265.2" x2="239.3" y2="266.6" stroke="#555" stroke-width="0.8"/>
<line x1="243.3" y1="265.2" x2="243.3" y2="266.6" stroke="#555" stroke-width="0.8"/>
<line x1="246.68" y1="265.2" x2="246.68" y2="266.6" stroke="#555" stroke-width="0.8"/>
<line x1="249.61" y1="265.2" x2="249.61" y2="266.6" stroke="#555" stroke-width="0.8"/>
<line x1="252.19" y1="265.2" x2="252.19" y2="266.6" stroke="#555" stroke-width="0.8"/>
<text transform="translate(199.4 277) scale(0.25)" font-size="22.4" text-anchor="start" font-weight="normal" fill="#444" textLength="32.8" lengthAdjust="spacingAndGlyphs" stroke="#444" stroke-width="0.8">10</text>
<text transform="translate(208.4 273.1) scale(0.25)" font-size="20" text-anchor="start" font-weight="normal" fill="#444" textLength="14.4" lengthAdjust="spacingAndGlyphs" stroke="#444" stroke-width="0.5">3</text>
<path d="M100 265.2 L110 264.8 L115 263.5 L118 261 L121 255 L123 248 L125 238 L127 225 L128.2 215 L129.3 207.8 L130.5 203 L131.5 200 L132.9 199.12 L134 198.82 L134.75 201.95 L135.5 202.23 L136.25 205.18 L137 205.24 L137.75 208.08 L138.5 208.96 L139.25 212.02 L140 212.37 L140.5 215.09 L141 215.29 L141.5 217.55 L142 217.89 L142.5 220.25 L143 220.4 L144 222.83 L145 223.58 L145.67 225.79 L146.33 225.91 L147 228.69 L147.67 228.94 L148.33 231.37 L149 231.61 L150 234.37 L151 235.12 L152 237.07 L153 237.26 L154 239.92 L155 240.58 L157 243.29 L158.4 242.46 L159.2 245.31 L160 245.72 L161 248.33 L162 248.35 L163.13 250.62 L164.27 250.63 L165.4 253.25 L166.27 253.12 L167.13 255.95 L168 256.04 L169.25 258.49 L170.5 259.1 L172.4 261.09 L173.2 261.5 L174 263 L176 264.8 L180 265.2" fill="#d0d0d0" stroke="#666" stroke-width="0.8"/>
<path d="M70 265.1 L72 264.94 L74 264.78 L76 264.62 L78 264.46 L80 264.3 L83.7 263.4 L85.85 262.7 L88 262 L90.4 260.4 L92.8 258.8 L93.7 256.87 L94.6 254.93 L95.5 253 L96.45 250.4 L97.4 247.8 L97.87 245.2 L98.33 242.6 L98.8 240 L99.23 237.73 L99.67 235.47 L100.1 233.2 L100.47 230.8 L100.83 228.4 L101.2 226 L101.6 223.5 L102 221 L102.37 219 L102.73 217 L103.1 215 L103.55 212.2 L104 209.4 L104.4 207.27 L104.8 205.13 L105.2 203 L105.9 200.15 L106.6 197.3 L107.5 193.5 L108.1 191 L108.6 192 L109.2 189.3 L109.8 191 L110.5 188.8 L111.1 190.8 L111.7 192.5 L112.6 196 L113.05 198.5 L113.5 201 L113.95 203.5 L114.4 206 L114.7 208 L115 210 L115.3 212 L115.6 214 L115.9 216 L116.2 218 L116.6 220.5 L117 223 L117.75 225.5 L118.5 228 L120 231 L121.6 233.2" fill="none" stroke="#6a6a6a" stroke-width="1.1" stroke-linejoin="round"/>
<path d="M121.6 233.2 L122.4 234 L124 235.5 L126 234.5 L128.2 235.7 L130 235.2 L131.5 237 L133 238.5 L134.8 240.6 L136.5 241.5 L137.3 241 L138.9 245.6 L140.5 248.5 L142 250.5 L144.3 253.7 L146 257 L148 259.5 L149.6 261.3 L151.4 262 L153.7 263.7 L158 264.7 L170 265.1" fill="none" stroke="#333" stroke-width="0.9"/>
<path d="M90 265.1 L100 264.6 L105.6 264.3 L109 263.5 L112 262 L114.7 258.8 L116.5 254 L118.4 246 L120 238 L121.2 232 L122.3 224 L123.1 216 L123.9 210.9 L124.6 203 L125.5 195.5 L126.3 191 L127.2 187.5 L127.8 186.2 L128.5 187.5 L129.3 186 L130.1 184.6 L130.9 185 L131.25 186.99 L131.6 187.35 L131.83 189.89 L132.07 189.98 L132.3 192.7 L132.75 193.35 L133.2 195.87 L133.57 196.02 L133.93 198.67 L134.3 199.01 L134.9 202.25 L135.5 202.59 L136 205.41 L136.5 205.38 L137 207.96 L137.5 208.06 L138 210.45 L138.5 210.17 L138.9 212.89 L139.3 212.74 L140.1 216.22 L140.7 216.86 L141.3 219.77 L141.7 219.75 L142.1 222.39 L142.5 222.92 L143.25 225.48 L144 225.38 L144.75 228.25 L145.5 228.17 L146.25 231 L147 230.64 L147.67 233.24 L148.33 233.04 L149 235.6 L149.67 235.3 L150.33 238.17 L151 238.09 L151.67 240.1 L152.33 240.36 L153 242.88 L153.63 242.6 L154.27 245.1 L154.9 245.08 L155.6 247.37 L156.3 247.3 L157 249.55 L158 249.82 L159 252.68 L160 252.55 L161 255.53 L162 255.14 L163 258.02 L164 257.45 L165 260.22 L166.25 260.05 L167.5 262.32 L168.75 261.37 L170 263 L173 264.5 L178 265.1" fill="none" stroke="#111" stroke-width="1.15" stroke-linejoin="round"/>
<text transform="translate(60.3 205.9) scale(0.25)" font-size="35.2" text-anchor="start" font-weight="normal" fill="#111" textLength="111.6" lengthAdjust="spacingAndGlyphs" stroke="#111" stroke-width="1.3">-ETYA</text>
<line x1="90.6" y1="203" x2="97.67" y2="206.02" stroke="#111" stroke-width="0.9"/>
<polygon points="103,208.3 96.64,208.41 98.69,203.63" fill="#111"/>
<circle cx="152.2" cy="178.3" r="1.25" fill="#111"/>
<text transform="translate(154.9 181.4) scale(0.25)" font-size="35.2" text-anchor="start" font-weight="normal" fill="#111" textLength="93.6" lengthAdjust="spacingAndGlyphs" stroke="#111" stroke-width="1.3">ETYA</text>
<line x1="148.2" y1="178.6" x2="138.81" y2="184.08" stroke="#111" stroke-width="0.9"/>
<polygon points="133.8,187 137.5,181.83 140.12,186.32" fill="#111"/>
<rect x="154.8" y="204" width="33.1" height="20.4" fill="#e2e2e2"/>
<rect x="189.2" y="203.7" width="50.5" height="21.9" fill="#dedede"/>
<g filter="url(#bl)">
<rect x="154.8" y="204" width="33.1" height="5" fill="#d2d2d2"/>
<rect x="189.2" y="203.7" width="50.5" height="5" fill="#cecece"/>
<rect x="154.8" y="219" width="33.1" height="5.4" fill="#e6e6e6"/>
<rect x="189.2" y="220" width="50.5" height="5.6" fill="#e2e2e2"/>
<rect x="157.6" y="211.9" width="13.6" height="4" rx="1.8" fill="#080808"/>
<rect x="172.5" y="213.1" width="12.6" height="2.3" rx="1" fill="#909090"/>
<rect x="190.8" y="213.3" width="11.8" height="3.8" rx="1.7" fill="#080808"/>
<rect x="206.4" y="214.1" width="10.6" height="3.6" rx="1.6" fill="#181818"/>
<rect x="221.4" y="214.6" width="13" height="2.8" rx="1.2" fill="#8c8c8c"/>
</g>
<text transform="translate(161.6 202.6) rotate(-45) scale(0.25)" font-size="19.6" fill="#111" stroke="#111" stroke-width="1.1" textLength="50" lengthAdjust="spacingAndGlyphs">CTRL</text>
<text transform="translate(180 203.4) rotate(-45) scale(0.25)" font-size="19.6" fill="#111" stroke="#111" stroke-width="1.1" textLength="142" lengthAdjust="spacingAndGlyphs">ETYA (30uM)</text>
<text transform="translate(198.2 203.4) rotate(-45) scale(0.25)" font-size="19.6" fill="#111" stroke="#111" stroke-width="1.1" textLength="50" lengthAdjust="spacingAndGlyphs">CTRL</text>
<text transform="translate(211.2 203.4) rotate(-45) scale(0.25)" font-size="19.6" fill="#111" stroke="#111" stroke-width="1.1" textLength="150" lengthAdjust="spacingAndGlyphs">NDGA (10uM)</text>
<text transform="translate(228.5 203.4) rotate(-45) scale(0.25)" font-size="19.6" fill="#111" stroke="#111" stroke-width="1.1" textLength="138" lengthAdjust="spacingAndGlyphs">NDGA (100uM)</text>
<line x1="311.2" y1="163.3" x2="514.5" y2="163.3" stroke="#8c8c8c" stroke-width="1.1"/>
<line x1="514.5" y1="163.3" x2="514.5" y2="265.1" stroke="#8c8c8c" stroke-width="1.1"/>
<line x1="311.2" y1="163.3" x2="311.2" y2="265.1" stroke="#111" stroke-width="1.8"/>
<line x1="311.2" y1="265.5" x2="514.5" y2="265.5" stroke="#7a7a7a" stroke-width="1"/>
<line x1="311.2" y1="265.5" x2="514.5" y2="265.5" stroke="#333" stroke-width="1" stroke-dasharray="1.3 1.2"/>
<line x1="306.7" y1="265.1" x2="311.2" y2="265.1" stroke="#a8a8a8" stroke-width="0.9"/>
<text transform="translate(299.6 267.1) scale(0.25)" font-size="22.4" text-anchor="end" font-weight="normal" fill="#444" textLength="19.6" lengthAdjust="spacingAndGlyphs" stroke="#444" stroke-width="0.8">0</text>
<line x1="306.7" y1="241.6" x2="311.2" y2="241.6" stroke="#a8a8a8" stroke-width="0.9"/>
<text transform="translate(299.6 243.6) scale(0.25)" font-size="22.4" text-anchor="end" font-weight="normal" fill="#444" textLength="58.8" lengthAdjust="spacingAndGlyphs" stroke="#444" stroke-width="0.8">100</text>
<line x1="306.7" y1="218.1" x2="311.2" y2="218.1" stroke="#a8a8a8" stroke-width="0.9"/>
<text transform="translate(299.6 220.1) scale(0.25)" font-size="22.4" text-anchor="end" font-weight="normal" fill="#444" textLength="58.8" lengthAdjust="spacingAndGlyphs" stroke="#444" stroke-width="0.8">200</text>
<line x1="306.7" y1="194.6" x2="311.2" y2="194.6" stroke="#a8a8a8" stroke-width="0.9"/>
<text transform="translate(299.6 196.6) scale(0.25)" font-size="22.4" text-anchor="end" font-weight="normal" fill="#444" textLength="58.8" lengthAdjust="spacingAndGlyphs" stroke="#444" stroke-width="0.8">300</text>
<line x1="306.7" y1="171.1" x2="311.2" y2="171.1" stroke="#a8a8a8" stroke-width="0.9"/>
<text transform="translate(299.6 173.1) scale(0.25)" font-size="22.4" text-anchor="end" font-weight="normal" fill="#444" textLength="58.8" lengthAdjust="spacingAndGlyphs" stroke="#444" stroke-width="0.8">400</text>
<line x1="309.4" y1="259.23" x2="311.2" y2="259.23" stroke="#a8a8a8" stroke-width="0.8"/>
<line x1="309.4" y1="253.35" x2="311.2" y2="253.35" stroke="#a8a8a8" stroke-width="0.8"/>
<line x1="309.4" y1="247.48" x2="311.2" y2="247.48" stroke="#a8a8a8" stroke-width="0.8"/>
<line x1="309.4" y1="235.73" x2="311.2" y2="235.73" stroke="#a8a8a8" stroke-width="0.8"/>
<line x1="309.4" y1="229.85" x2="311.2" y2="229.85" stroke="#a8a8a8" stroke-width="0.8"/>
<line x1="309.4" y1="223.98" x2="311.2" y2="223.98" stroke="#a8a8a8" stroke-width="0.8"/>
<line x1="309.4" y1="212.22" x2="311.2" y2="212.22" stroke="#a8a8a8" stroke-width="0.8"/>
<line x1="309.4" y1="206.35" x2="311.2" y2="206.35" stroke="#a8a8a8" stroke-width="0.8"/>
<line x1="309.4" y1="200.48" x2="311.2" y2="200.48" stroke="#a8a8a8" stroke-width="0.8"/>
<line x1="309.4" y1="188.72" x2="311.2" y2="188.72" stroke="#a8a8a8" stroke-width="0.8"/>
<line x1="309.4" y1="182.85" x2="311.2" y2="182.85" stroke="#a8a8a8" stroke-width="0.8"/>
<line x1="309.4" y1="176.98" x2="311.2" y2="176.98" stroke="#a8a8a8" stroke-width="0.8"/>
<line x1="311.2" y1="265.1" x2="311.2" y2="267.7" stroke="#555" stroke-width="0.9"/>
<line x1="326.49" y1="265.1" x2="326.49" y2="266.5" stroke="#555" stroke-width="0.8"/>
<line x1="335.44" y1="265.1" x2="335.44" y2="266.5" stroke="#555" stroke-width="0.8"/>
<line x1="341.78" y1="265.1" x2="341.78" y2="266.5" stroke="#555" stroke-width="0.8"/>
<line x1="346.71" y1="265.1" x2="346.71" y2="266.5" stroke="#555" stroke-width="0.8"/>
<line x1="350.73" y1="265.1" x2="350.73" y2="266.5" stroke="#555" stroke-width="0.8"/>
<line x1="354.13" y1="265.1" x2="354.13" y2="266.5" stroke="#555" stroke-width="0.8"/>
<line x1="357.08" y1="265.1" x2="357.08" y2="266.5" stroke="#555" stroke-width="0.8"/>
<line x1="359.68" y1="265.1" x2="359.68" y2="266.5" stroke="#555" stroke-width="0.8"/>
<text transform="translate(306.6 276.8) scale(0.25)" font-size="22.4" text-anchor="start" font-weight="normal" fill="#444" textLength="32.8" lengthAdjust="spacingAndGlyphs" stroke="#444" stroke-width="0.8">10</text>
<text transform="translate(315.6 272.9) scale(0.25)" font-size="20" text-anchor="start" font-weight="normal" fill="#444" textLength="14.4" lengthAdjust="spacingAndGlyphs" stroke="#444" stroke-width="0.5">0</text>
<line x1="362" y1="265.1" x2="362" y2="267.7" stroke="#555" stroke-width="0.9"/>
<line x1="377.29" y1="265.1" x2="377.29" y2="266.5" stroke="#555" stroke-width="0.8"/>
<line x1="386.24" y1="265.1" x2="386.24" y2="266.5" stroke="#555" stroke-width="0.8"/>
<line x1="392.58" y1="265.1" x2="392.58" y2="266.5" stroke="#555" stroke-width="0.8"/>
<line x1="397.51" y1="265.1" x2="397.51" y2="266.5" stroke="#555" stroke-width="0.8"/>
<line x1="401.53" y1="265.1" x2="401.53" y2="266.5" stroke="#555" stroke-width="0.8"/>
<line x1="404.93" y1="265.1" x2="404.93" y2="266.5" stroke="#555" stroke-width="0.8"/>
<line x1="407.88" y1="265.1" x2="407.88" y2="266.5" stroke="#555" stroke-width="0.8"/>
<line x1="410.48" y1="265.1" x2="410.48" y2="266.5" stroke="#555" stroke-width="0.8"/>
<text transform="translate(357.4 276.8) scale(0.25)" font-size="22.4" text-anchor="start" font-weight="normal" fill="#444" textLength="32.8" lengthAdjust="spacingAndGlyphs" stroke="#444" stroke-width="0.8">10</text>
<text transform="translate(366.4 272.9) scale(0.25)" font-size="20" text-anchor="start" font-weight="normal" fill="#444" textLength="14.4" lengthAdjust="spacingAndGlyphs" stroke="#444" stroke-width="0.5">1</text>
<line x1="412.8" y1="265.1" x2="412.8" y2="267.7" stroke="#555" stroke-width="0.9"/>
<line x1="428.09" y1="265.1" x2="428.09" y2="266.5" stroke="#555" stroke-width="0.8"/>
<line x1="437.04" y1="265.1" x2="437.04" y2="266.5" stroke="#555" stroke-width="0.8"/>
<line x1="443.38" y1="265.1" x2="443.38" y2="266.5" stroke="#555" stroke-width="0.8"/>
<line x1="448.31" y1="265.1" x2="448.31" y2="266.5" stroke="#555" stroke-width="0.8"/>
<line x1="452.33" y1="265.1" x2="452.33" y2="266.5" stroke="#555" stroke-width="0.8"/>
<line x1="455.73" y1="265.1" x2="455.73" y2="266.5" stroke="#555" stroke-width="0.8"/>
<line x1="458.68" y1="265.1" x2="458.68" y2="266.5" stroke="#555" stroke-width="0.8"/>
<line x1="461.28" y1="265.1" x2="461.28" y2="266.5" stroke="#555" stroke-width="0.8"/>
<text transform="translate(408.2 276.8) scale(0.25)" font-size="22.4" text-anchor="start" font-weight="normal" fill="#444" textLength="32.8" lengthAdjust="spacingAndGlyphs" stroke="#444" stroke-width="0.8">10</text>
<text transform="translate(417.2 272.9) scale(0.25)" font-size="20" text-anchor="start" font-weight="normal" fill="#444" textLength="14.4" lengthAdjust="spacingAndGlyphs" stroke="#444" stroke-width="0.5">2</text>
<line x1="463.6" y1="265.1" x2="463.6" y2="267.7" stroke="#555" stroke-width="0.9"/>
<line x1="478.89" y1="265.1" x2="478.89" y2="266.5" stroke="#555" stroke-width="0.8"/>
<line x1="487.84" y1="265.1" x2="487.84" y2="266.5" stroke="#555" stroke-width="0.8"/>
<line x1="494.18" y1="265.1" x2="494.18" y2="266.5" stroke="#555" stroke-width="0.8"/>
<line x1="499.11" y1="265.1" x2="499.11" y2="266.5" stroke="#555" stroke-width="0.8"/>
<line x1="503.13" y1="265.1" x2="503.13" y2="266.5" stroke="#555" stroke-width="0.8"/>
<line x1="506.53" y1="265.1" x2="506.53" y2="266.5" stroke="#555" stroke-width="0.8"/>
<line x1="509.48" y1="265.1" x2="509.48" y2="266.5" stroke="#555" stroke-width="0.8"/>
<line x1="512.08" y1="265.1" x2="512.08" y2="266.5" stroke="#555" stroke-width="0.8"/>
<text transform="translate(459 276.8) scale(0.25)" font-size="22.4" text-anchor="start" font-weight="normal" fill="#444" textLength="32.8" lengthAdjust="spacingAndGlyphs" stroke="#444" stroke-width="0.8">10</text>
<text transform="translate(468 272.9) scale(0.25)" font-size="20" text-anchor="start" font-weight="normal" fill="#444" textLength="14.4" lengthAdjust="spacingAndGlyphs" stroke="#444" stroke-width="0.5">3</text>
<line x1="514.4" y1="265.1" x2="514.4" y2="267.7" stroke="#555" stroke-width="0.9"/>
<path d="M311.5 180 L314.3 181.5 L314.6 185 L312.2 186.8 Z" fill="#111"/>
<line x1="315.5" y1="181" x2="317" y2="182.3" stroke="#222" stroke-width="0.9"/>
<path d="M329.8 176.5 C329.92 177.02 330.13 178.85 330.5 179.6 C330.87 180.35 331.58 180.27 332 181 C332.42 181.73 332.72 182.4 333 184 C333.28 185.6 333.37 188.27 333.7 190.6 C334.03 192.93 334.62 195.77 335 198 C335.38 200.23 335.63 201.8 336 204 C336.37 206.2 336.8 209.12 337.2 211.2 C337.6 213.28 338 214.78 338.4 216.5 C338.8 218.22 339.17 219.42 339.6 221.5 C340.03 223.58 340.55 226.58 341 229 C341.45 231.42 341.88 234.17 342.3 236 C342.72 237.83 343.12 238.67 343.5 240 C343.88 241.33 344.2 242.7 344.6 244 C345 245.3 345.42 246.38 345.9 247.8 C346.38 249.22 346.93 251.05 347.5 252.5 C348.07 253.95 348.67 255.28 349.3 256.5 C349.93 257.72 350.6 258.85 351.3 259.8 C352 260.75 352.72 261.55 353.5 262.2 C354.28 262.85 355.08 263.32 356 263.7 C356.92 264.08 357.5 264.35 359 264.5 C360.5 264.65 363.5 264.68 365 264.6 C366.5 264.52 367.17 263.97 368 264 C368.83 264.03 368 264.63 370 264.8 C372 264.97 378.33 264.97 380 265" fill="none" stroke="#222" stroke-width="0.95" stroke-dasharray="1.2 0.6"/>
<path d="M330 178.5 L333 183.5 M332.8 178.8 L330.6 183" stroke="#222" stroke-width="0.9"/>
<path d="M311.7 244 L313.37 246.51 L315.04 243.92 L316.25 247.65 L318.5 245.09 L319.75 248.17 L320.55 242.99 L322 245.83 L322.73 240.43 L323.64 244.36 L324.98 239.65 L326.35 241.87 L327.92 237.12 L330.18 240.94 L332.14 237.75 L333.62 240.37 L335.09 237.71 L337.55 244.45 L338.78 238.66 L341.1 244.43 L342.7 241.14 L343.7 245.38 L345.64 244.23 L346.87 246.35 L348.1 244.08 L349.32 248.16 L351.16 245.19 L352.06 246.46 L353.68 242.34 L354.58 244.16 L356.02 240.35 L356.91 241.57 L357.98 237.12 L358.88 240.13 L360.31 235.51 L362.11 236.72 L363.74 232.48 L365.55 233.98 L366.46 228.88 L367.48 232.65 L369.41 227.04 L370.38 231.68 L372.31 227.38 L374.21 229.12 L375.91 225.88 L377.39 228.01 L378.67 222.58 L379.52 225.6 L380.36 222.76 L382.06 223.67 L383.97 218.94 L385.67 222.04 L386.52 218.92 L388.19 222.68 L389.75 215.68 L390.92 220.57 L392.28 213.18 L394.03 215.77 L396 212.47 L398 217.77 L399.98 214.34 L401.82 218.82 L403.35 217.59 L404.07 223.2 L404.51 220.33 L405.02 227.83 L405.73 225.42 L406.62 228.91 L407.52 227.47 L408.28 231.38 L409.31 231.26 L410.54 236.49 L411.58 235.3 L412.15 239.26 L413.3 237.73 L414.21 243.14 L415.04 241.2 L416.18 247.52 L416.89 244.63 L417.61 248.7 L418.6 247.41 L420.03 253.46 L420.6 247.81 L421.74 255.13 L423.02 254.51 L424.02 257.57 L425.1 256.15 L426.7 260.68 L428.3 258.28 L429.9 262.84 L431.09 261.49 L433.07 264.04 L434.55 261.54 L434.8 263.6 L439 264.6 L443 265.1 L445 265.1" fill="none" stroke="#111" stroke-width="1.25" stroke-linejoin="round"/>
<text transform="translate(19.8 65.8) rotate(-90)" font-size="13" fill="#111" stroke="#111" stroke-width="0.3" textLength="37.9" lengthAdjust="spacingAndGlyphs">Events</text>
<text transform="translate(20.2 230.3) rotate(-90)" font-size="13" fill="#111" stroke="#111" stroke-width="0.3" textLength="38.1" lengthAdjust="spacingAndGlyphs">Events</text>
<text transform="translate(109.3 130) skewX(-8) scale(0.25)" font-size="43.2" font-weight="bold" fill="#111" stroke="#111" stroke-width="0.7" textLength="173.2" lengthAdjust="spacingAndGlyphs">CMXRos</text>
<text transform="translate(371.5 129.75) skewX(-8) scale(0.25)" font-size="43.2" font-weight="bold" fill="#111" stroke="#111" stroke-width="0.7" textLength="173.2" lengthAdjust="spacingAndGlyphs">CMXRos</text>
<text transform="translate(109.6 290) skewX(-8) scale(0.25)" font-size="43.2" font-weight="bold" fill="#111" stroke="#111" stroke-width="0.7" textLength="173.2" lengthAdjust="spacingAndGlyphs">CMXRos</text>
<text transform="translate(382.9 289) skewX(0) scale(0.25)" font-size="43.2" font-weight="bold" fill="#111" stroke="#111" stroke-width="0.7" textLength="62.4" lengthAdjust="spacingAndGlyphs">HE</text>
<text transform="translate(1 9.1) scale(0.25)" font-size="46.8" text-anchor="start" font-weight="bold" fill="#111" textLength="31.2" lengthAdjust="spacingAndGlyphs" stroke="#111" stroke-width="1.6">A</text>
<text transform="translate(271.2 9.1) scale(0.25)" font-size="48" text-anchor="start" font-weight="bold" fill="#111" textLength="27.2" lengthAdjust="spacingAndGlyphs" stroke="#111" stroke-width="1.6">B</text>
<text transform="translate(-0.1 152.8) scale(0.25)" font-size="49.6" text-anchor="start" font-weight="bold" fill="#111" textLength="31.2" lengthAdjust="spacingAndGlyphs" stroke="#111" stroke-width="1.6">C</text>
<text transform="translate(269.8 152.5) scale(0.25)" font-size="47.2" text-anchor="start" font-weight="bold" fill="#111" textLength="30" lengthAdjust="spacingAndGlyphs" stroke="#111" stroke-width="1.6">D</text>
</svg>
</body></html>
